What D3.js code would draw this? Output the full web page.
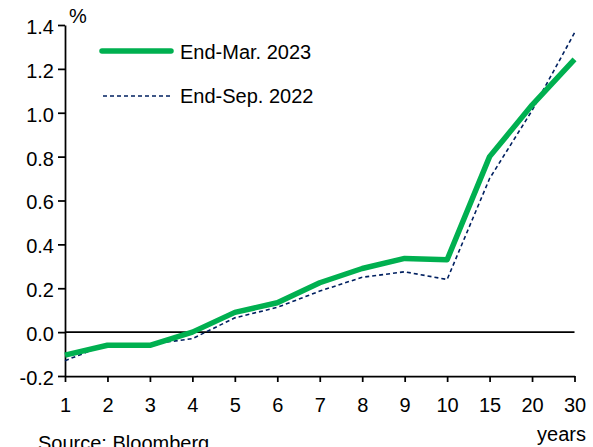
<!DOCTYPE html>
<html><head><meta charset="utf-8">
<script src="https://cdn.jsdelivr.net/npm/d3@7"></script>
<style>body{margin:0;background:#fff;} text{font-family:"Liberation Sans",Arial,sans-serif;fill:#000;}</style>
</head><body>
<svg id="c" width="593" height="447"></svg>
<script>
const categories = ["1","2","3","4","5","6","7","8","9","10","15","20","30"];
const endMar2023 = [-0.105,-0.06,-0.06,0.0,0.09,0.134,0.225,0.29,0.336,0.33,0.80,1.035,1.243];
const endSep2022 = [-0.13,-0.055,-0.055,-0.03,0.065,0.113,0.187,0.25,0.275,0.24,0.70,1.01,1.364];
const yTicks = [-0.2,0,0.2,0.4,0.6,0.8,1.0,1.2,1.4];
const seriesNames = ["End-Mar. 2023","End-Sep. 2022"];

const svg = d3.select("#c");
const x = d3.scalePoint().domain(categories).range([65,574.5]);
const y = d3.scaleLinear().domain([-0.2,1.4]).range([376,25]);

// zero line
svg.append("line").attr("x1",65).attr("x2",574.5).attr("y1",y(0)).attr("y2",y(0))
  .attr("stroke","#000").attr("stroke-width",1.75);

// y axis
const ya = svg.append("g").attr("transform","translate(65,0)")
  .call(d3.axisLeft(y).tickValues(yTicks).tickFormat(d3.format(".1f")).tickSize(7).tickSizeOuter(0));
ya.select(".domain").attr("stroke","#000").attr("stroke-width",1.75);
ya.selectAll(".tick line").attr("stroke","#000").attr("stroke-width",1.75);
ya.selectAll(".tick text").attr("font-size",20).attr("x",-11).attr("dy","0.42em")
  .text(d=>d3.format(".1f")(d).replace("−","-"));

// x axis
const xa = svg.append("g").attr("transform","translate(0,376)")
  .call(d3.axisBottom(x).tickSize(6).tickSizeOuter(0));
xa.select(".domain").attr("stroke","#000").attr("stroke-width",1.75);
xa.selectAll(".tick line").attr("stroke","#000").attr("stroke-width",1.75);
xa.selectAll(".tick text").attr("font-size",20).attr("y",22).attr("dy","0.71em");

const line = d3.line().x((d,i)=>x(categories[i])).y(d=>y(d));
svg.append("path").datum(endSep2022).attr("d",line).attr("fill","none")
  .attr("stroke","#002060").attr("stroke-width",1.6).attr("stroke-dasharray","4,3");
svg.append("path").datum(endMar2023).attr("d",line).attr("fill","none")
  .attr("stroke","#00B050").attr("stroke-width",5.5).attr("stroke-linejoin","round");

// legend
svg.append("line").attr("x1",102).attr("x2",171).attr("y1",51).attr("y2",51)
  .attr("stroke","#00B050").attr("stroke-width",5.5).attr("stroke-linecap","round");
svg.append("text").attr("x",180).attr("y",58.5).attr("font-size",20).text(seriesNames[0]);
svg.append("line").attr("x1",103).attr("x2",172).attr("y1",96).attr("y2",96)
  .attr("stroke","#002060").attr("stroke-width",1.6).attr("stroke-dasharray","4,3");
svg.append("text").attr("x",180).attr("y",103).attr("font-size",20).text(seriesNames[1]);

// labels
svg.append("text").attr("x",69).attr("y",23).attr("font-size",20).text("%");
svg.append("text").attr("x",586).attr("y",441).attr("font-size",20).attr("text-anchor","end").text("years");
svg.append("text").attr("x",38).attr("y",450).attr("font-size",20).text("Source: Bloomberg");
</script>
</body></html>
